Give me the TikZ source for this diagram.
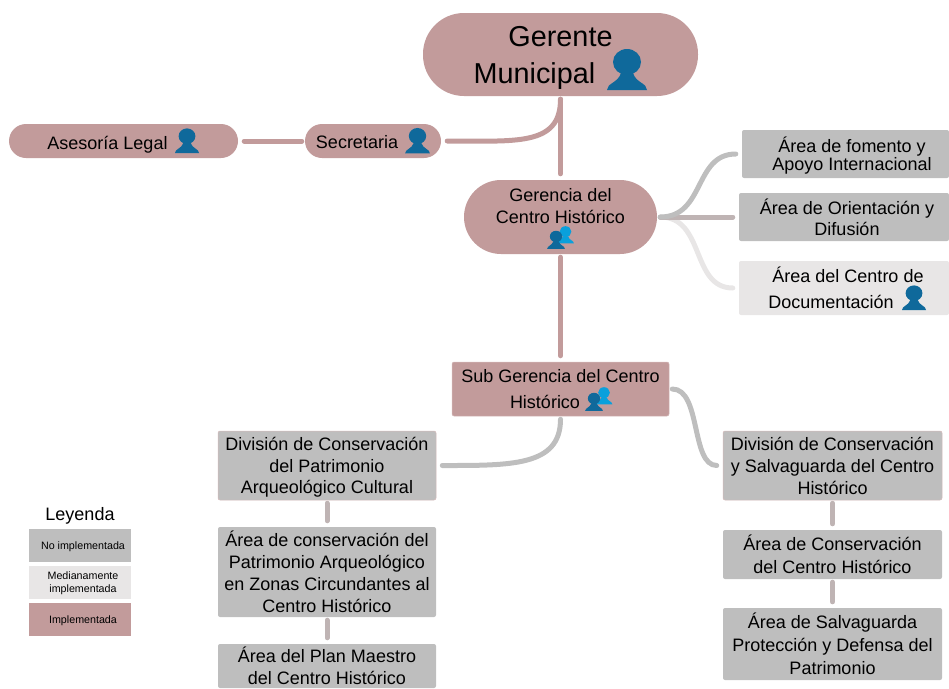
\documentclass[tikz,border=0pt]{standalone}
\usepackage{fontspec}
\setmainfont{Liberation Sans}
\usepackage{xcolor}
\definecolor{rosado}{RGB}{194,155,155}
\definecolor{gris}{RGB}{190,190,190}
\definecolor{claro}{RGB}{232,230,230}
\definecolor{azuloscuro}{RGB}{15,105,155}
\definecolor{azulclaro}{RGB}{10,160,220}
\newcommand{\anchoicono}{32pt}
\newcommand{\anchodoble}{31pt}
\tikzset{
    common/.style={anchor=center, rectangle, align=center, inner sep=0pt, text depth=0pt, rounded corners=2pt},
    texto/.style={font=\fontsize{18}{#1}\selectfont},
    implementada/.style={common, fill=rosado},
    noimpl/.style={common, fill=gris},
    mediana/.style={common, fill=claro},
    borde/.style={draw=rosado!70!white, line width=.5pt},
    leyenda/.style={common, rounded corners=0pt, minimum width=102pt, minimum height=33pt, font=\fontsize{10.7}{13}\selectfont},
    lazo/.style={line width=5pt, line cap=round, shorten >=6pt, shorten <=3pt},
    lazo-rosa/.style={lazo, rosado},
    lazo-gris/.style={lazo, gris},
    lazo-claro/.style={lazo, claro},
    lazo-medio/.style={lazo, gris!70!rosado},
    persona/.pic={
        \fill (0,-8) ellipse [x radius=14, y radius=13];
        \fill (-20,20) .. controls (-20,13) and (-9,13) .. (-6,3) -- (6,3) .. controls (9,13) and (20,13) .. (20,20) -- cycle;
    }
}
\begin{document}
\begin{tikzpicture}[x=1pt, y=-1pt]
  \useasboundingbox (0,0) rectangle (949,688);

  \path
    (560.5,54.5) node[implementada, rounded corners=41pt, minimum width=275pt, minimum height=83pt, font=\fontsize{28.8}{37}\selectfont] (gerente) {Gerente\\Municipal\hspace*{52pt}}
    (373,141) node[implementada, rounded corners=17pt, minimum width=136pt, minimum height=34pt, texto=22] (secretaria) {\raisebox{-2pt}{Secretaria}\hspace*{\anchoicono}}
    (123.5,141) node[implementada, rounded corners=17pt, minimum width=229pt, minimum height=34pt, texto=22] (asesoria) {\raisebox{-3pt}{Asesoría Legal}\hspace*{\anchoicono}}
    (560.5,217) node[implementada, rounded corners=37pt, minimum width=193pt, minimum height=74pt, texto=22] (gerencia) {Gerencia del\\Centro Histórico\\\mbox{}}
    (560.5,389) node[implementada, borde, minimum width=217pt, minimum height=54pt, texto=26] (subgerencia) {Sub Gerencia del Centro\\Histórico\hspace*{\anchodoble}};

  \path
    (845.5,154) node[noimpl, minimum width=207pt, minimum height=48pt, texto=16] (fomento) {\hspace*{13pt}Área de fomento y\\\hspace*{13pt}Apoyo Internacional}
    (844,217) node[noimpl, minimum width=210pt, minimum height=48pt, texto=21] (orientacion) {\hspace*{6pt}Área de Orientación y\\\hspace*{6pt}Difusión}
    (844,288) node[mediana, minimum width=210pt, minimum height=54pt, texto=26] (documentacion) {\hspace*{8pt}Área del Centro de\\Documentación\hspace*{26pt}};

  \path
    (327,465.5) node[noimpl, borde, minimum width=218pt, minimum height=69pt, texto=21.5] (division-arq) {División de Conservación\\del Patrimonio\\Arqueológico Cultural}
    (327,572) node[noimpl, minimum width=218pt, minimum height=90pt, texto=22] (area-zonas) {Área de conservación del\\Patrimonio Arqueológico\\en Zonas Circundantes al\\Centro Histórico}
    (327,666) node[noimpl, minimum width=218pt, minimum height=44pt, texto=22] (area-plan) {Área del Plan Maestro\\del Centro Histórico};

  \path
    (832.5,465.5) node[noimpl, borde, minimum width=219pt, minimum height=69pt, texto=22] (division-salv) {División de Conservación\\y Salvaguarda del Centro\\Histórico}
    (832.5,554.5) node[noimpl, minimum width=219pt, minimum height=49pt, texto=23] (area-cons) {Área de Conservación\\del Centro Histórico}
    (832.5,644) node[noimpl, minimum width=219pt, minimum height=72pt, texto=23] (area-salv) {Área de Salvaguarda\\Protección y Defensa del\\Patrimonio};

  \path
    (80,514) node[common, texto=22] (leyenda-titulo) {Leyenda}
    (80,545.5) node[leyenda, fill=gris] (leyenda-no) {\hspace*{6pt}No implementada}
    (80,582.5) node[leyenda, fill=claro] (leyenda-media) {\hspace*{6pt}Medianamente\\\hspace*{6pt}implementada}
    (80,619.5) node[leyenda, fill=rosado] (leyenda-si) {\hspace*{6pt}Implementada};

  \path[azuloscuro]
    (627,70) pic {persona}
    (187,141) pic[scale=.6] {persona}
    (417.5,141) pic[scale=.62] {persona}
    (914,298) pic[scale=.6] {persona};
  \path[azulclaro]
    (565.5,235) pic[scale=.42] {persona}
    (604,396) pic[scale=.42] {persona};
  \path[azuloscuro]
    (556,240) pic[scale=.44] {persona}
    (594,402) pic[scale=.44] {persona};

  \draw[lazo-rosa] (gerente.south) -- (gerencia.north);
  \draw[lazo-rosa] (gerente.south) .. controls +(0,50) and +(75,0) .. (secretaria.east);
  \draw[lazo-rosa] (secretaria.west) -- (asesoria.east);
  \draw[lazo-rosa] (gerencia.south) -- (subgerencia.north);

  \draw[lazo-claro] (gerencia.east) .. controls +(48,0) and +(-48,0) .. (documentacion.west);
  \draw[lazo-medio] (gerencia.east) -- (orientacion.west);
  \draw[lazo-gris] (gerencia.east) .. controls +(48,0) and +(-48,0) .. (fomento.west);

  \draw[lazo-gris] (subgerencia.south) .. controls +(0,50) and +(75,0) .. (division-arq.east);
  \draw[lazo-gris] (subgerencia.east) .. controls +(32,0) and +(-32,0) .. (division-salv.west);

  \draw[lazo-medio] (division-arq.south) -- (area-zonas.north);
  \draw[lazo-medio] (area-zonas.south) -- (area-plan.north);
  \draw[lazo-medio] (division-salv.south) -- (area-cons.north);
  \draw[lazo-medio] (area-cons.south) -- (area-salv.north);
\end{tikzpicture}
\end{document}
